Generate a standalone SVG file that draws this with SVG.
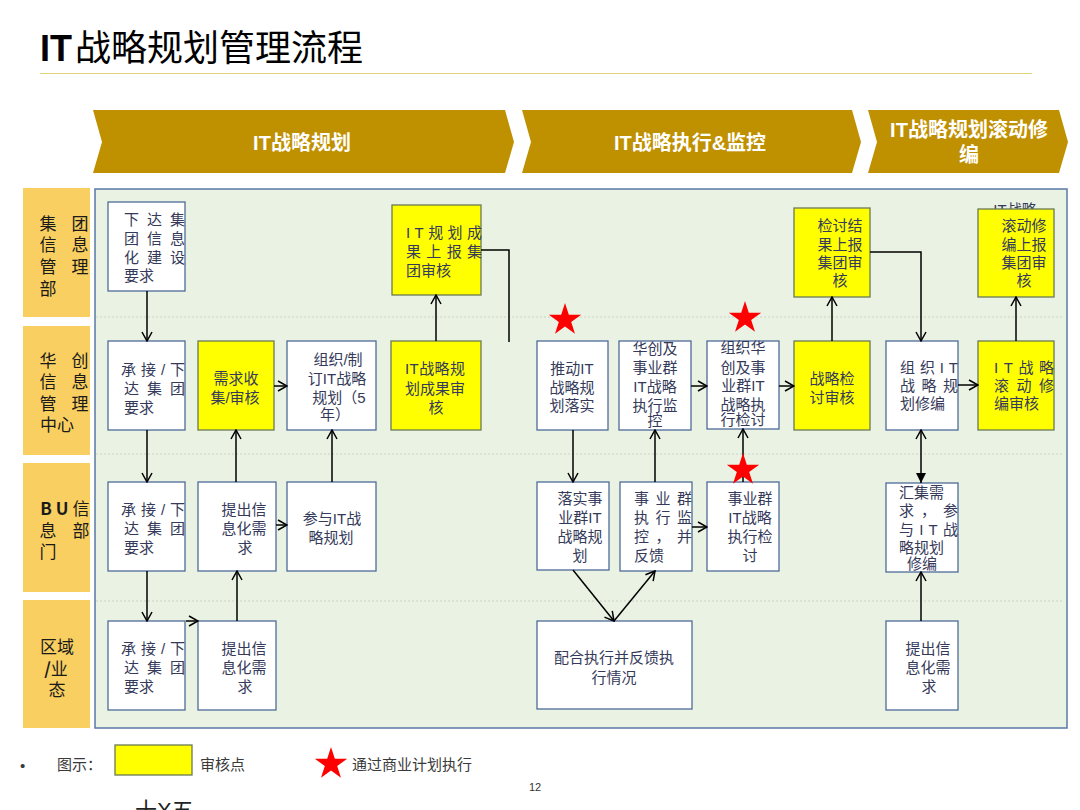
<svg xmlns="http://www.w3.org/2000/svg" width="1080" height="810" viewBox="0 0 1080 810">
<style>
.t{font-family:"Liberation Sans","Noto Sans CJK SC",sans-serif;font-size:15px;fill:#353a5a;dominant-baseline:central}
.c{text-anchor:middle}
.bx{fill:#fff;stroke:#4e6a99;stroke-width:1.3}
.yb{fill:#ffff00;stroke:#6a7a55;stroke-width:1.3}
.lane{fill:#f9cf61}
.lt{font-family:"Noto Sans CJK SC",sans-serif;font-size:17px;fill:#1a1a1a;dominant-baseline:central;text-anchor:middle}
.ch{fill:#bf9000}
.cht{font-family:"Liberation Sans","Noto Sans CJK SC",sans-serif;font-size:20px;font-weight:bold;fill:#fff;text-anchor:middle;dominant-baseline:central}
.ln{fill:none;stroke:#000;stroke-width:1.5}
.dl{stroke:#c4c8c4;stroke-width:0.8;stroke-dasharray:2 2}
.lg{font-family:"Liberation Sans","Noto Sans CJK SC",sans-serif;font-size:15px;fill:#3a3a3a;dominant-baseline:central}
</style>
<defs>
<marker id="ah" viewBox="0 0 12 12" refX="11" refY="6" markerWidth="12" markerHeight="12" markerUnits="userSpaceOnUse" orient="auto"><path d="M2,1 L11,6 L2,11" fill="none" stroke="#000" stroke-width="1.5"/></marker>
<marker id="ahf" viewBox="0 0 12 12" refX="11" refY="6" markerWidth="12" markerHeight="12" markerUnits="userSpaceOnUse" orient="auto-start-reverse"><path d="M1,1 L11,6 L1,11 Z" fill="#000"/></marker>
<polygon id="star" points="0,-17 3.82,-5.25 16.17,-5.25 6.18,2.01 9.99,13.75 0,6.49 -9.99,13.75 -6.18,2.01 -16.17,-5.25 -3.82,-5.25" fill="#ff0000"/>
</defs>
<rect width="1080" height="810" fill="#fff"/>

<g id="title">
<text x="40" y="61" font-family="Liberation Sans,sans-serif" font-size="36" font-weight="bold" fill="#000">IT<tspan font-family="Noto Sans CJK SC,sans-serif" font-weight="normal" dx="3">战略规划管理流程</tspan></text>
<line x1="40" y1="73.5" x2="1032" y2="73.5" stroke="#e3d37c" stroke-width="1"/>
</g>

<g id="phases">
<polygon class="ch" points="93,110 505,110 514,142 505,173 93,173 102,142"/>
<text class="cht" x="302" y="143">IT战略规划</text>
<polygon class="ch" points="522,110 852,110 861,142 852,173 522,173 531,142"/>
<text class="cht" x="690" y="143">IT战略执行&amp;监控</text>
<polygon class="ch" points="868,110 1059,110 1068,142 1059,173 868,173 877,142"/>
<text class="cht" x="969" y="130">IT战略规划滚动修</text>
<text class="cht" x="969" y="155">编</text>
</g>

<g id="panel">
<rect x="95" y="189" width="972" height="539" fill="#eaf3e3" stroke="#5878a8" stroke-width="1.5"/>
<line class="dl" x1="96" y1="317" x2="1062" y2="317"/>
<line class="dl" x1="96" y1="454" x2="1062" y2="454"/>
<line class="dl" x1="96" y1="601" x2="1062" y2="601"/>
</g>

<g id="lane1">
<rect class="lane" x="23" y="188" width="67" height="129"/>
<text class="lt" x="48" y="222">集</text><text class="lt" x="80" y="222">团</text>
<text class="lt" x="48" y="243">信</text><text class="lt" x="80" y="243">息</text>
<text class="lt" x="48" y="265">管</text><text class="lt" x="80" y="265">理</text>
<text class="lt" x="48" y="287">部</text>
</g>
<g id="lane2">
<rect class="lane" x="23" y="326" width="67" height="129"/>
<text class="lt" x="48" y="359">华</text><text class="lt" x="80" y="359">创</text>
<text class="lt" x="48" y="380">信</text><text class="lt" x="80" y="380">息</text>
<text class="lt" x="48" y="402">管</text><text class="lt" x="80" y="402">理</text>
<text class="lt" x="57" y="423">中心</text>
</g>
<g id="lane3">
<rect class="lane" x="23" y="463" width="67" height="129"/>
<text class="lt" x="46" y="507" font-family="Liberation Sans,sans-serif" font-weight="bold">B</text>
<text class="lt" x="62" y="507" font-family="Liberation Sans,sans-serif" font-weight="bold">U</text>
<text class="lt" x="81" y="507">信</text>
<text class="lt" x="48" y="529">息</text><text class="lt" x="81" y="529">部</text>
<text class="lt" x="48" y="550">门</text>
</g>
<g id="lane4">
<rect class="lane" x="23" y="600" width="67" height="128"/>
<text class="lt" x="57" y="645">区域</text>
<text class="lt" x="56" y="667"><tspan font-weight="bold">/</tspan>业</text>
<text class="lt" x="57" y="688">态</text>
</g>

<g id="n_xiada">
<rect class="bx" x="108" y="202" width="77" height="89"/>
<text class="t" x="124" y="219" textLength="61" lengthAdjust="spacing">下达集</text>
<text class="t" x="124" y="238" textLength="61" lengthAdjust="spacing">团信息</text>
<text class="t" x="124" y="257" textLength="61" lengthAdjust="spacing">化建设</text>
<text class="t" x="124" y="275">要求</text>
</g>
<g id="n_shangbao1">
<rect class="yb" x="392" y="205" width="89" height="90"/>
<text class="t" x="406" y="232" textLength="76" lengthAdjust="spacing">IT规划成</text>
<text class="t" x="406" y="251" textLength="76" lengthAdjust="spacing">果上报集</text>
<text class="t" x="406" y="270">团审核</text>
</g>
<g id="n_jiantao_report">
<rect class="yb" x="794" y="208" width="76" height="89"/>
<text class="t c" x="840" y="225">检讨结</text>
<text class="t c" x="840" y="244">果上报</text>
<text class="t c" x="840" y="262">集团审</text>
<text class="t c" x="840" y="280">核</text>
</g>
<text class="t c" x="1015" y="209" font-size="14">IT战略</text>
<g id="n_gundong_report">
<rect class="yb" x="978" y="209" width="76" height="88"/>
<text class="t c" x="1024" y="225">滚动修</text>
<text class="t c" x="1024" y="244">编上报</text>
<text class="t c" x="1024" y="262">集团审</text>
<text class="t c" x="1024" y="280">核</text>
</g>

<g id="n_b_chengjie">
<rect class="bx" x="108" y="341" width="77" height="89"/>
<text class="t" x="121" y="369" textLength="64" lengthAdjust="spacing">承接/下</text>
<text class="t" x="124" y="388" textLength="61" lengthAdjust="spacing">达集团</text>
<text class="t" x="124" y="407">要求</text>
</g>
<g id="n_xuqiu">
<rect class="yb" x="198" y="341" width="76" height="89"/>
<text class="t c" x="236" y="378">需求收</text>
<text class="t c" x="235" y="397">集/审核</text>
</g>
<g id="n_zhiding">
<rect class="bx" x="287" y="341" width="89" height="89"/>
<text class="t c" x="338" y="359">组织/制</text>
<text class="t c" x="337" y="378">订IT战略</text>
<text class="t c" x="339" y="397">规划（5</text>
<text class="t c" x="335" y="414">年）</text>
</g>
<g id="n_chengguo">
<rect class="yb" x="391" y="341" width="90" height="89"/>
<text class="t" x="405" y="368" textLength="60" lengthAdjust="spacing">IT战略规</text>
<text class="t" x="405" y="388" textLength="60" lengthAdjust="spacing">划成果审</text>
<text class="t c" x="436" y="407">核</text>
</g>
<g id="n_tuidong">
<rect class="bx" x="537" y="341" width="71" height="89"/>
<text class="t c" x="572" y="368">推动IT</text>
<text class="t c" x="572" y="387">战略规</text>
<text class="t c" x="572" y="405">划落实</text>
</g>
<g id="n_jiankong">
<rect class="bx" x="619" y="341" width="72" height="89"/>
<text class="t c" x="655" y="348">华创及</text>
<text class="t c" x="655" y="367">事业群</text>
<text class="t c" x="655" y="386">IT战略</text>
<text class="t c" x="655" y="405">执行监</text>
<text class="t c" x="655" y="420">控</text>
</g>
<g id="n_jiantao">
<rect class="bx" x="707" y="341" width="72" height="88"/>
<text class="t c" x="743" y="347">组织华</text>
<text class="t c" x="743" y="367">创及事</text>
<text class="t c" x="743" y="385">业群IT</text>
<text class="t c" x="743" y="404">战略执</text>
<text class="t c" x="743" y="419">行检讨</text>
</g>
<g id="n_shenhe">
<rect class="yb" x="794" y="341" width="76" height="89"/>
<text class="t c" x="832" y="378">战略检</text>
<text class="t c" x="832" y="397">讨审核</text>
</g>
<g id="n_xiubian">
<rect class="bx" x="886" y="341" width="72" height="89"/>
<text class="t" x="900" y="367" textLength="58" lengthAdjust="spacing">组织IT</text>
<text class="t" x="900" y="385" textLength="58" lengthAdjust="spacing">战略规</text>
<text class="t" x="900" y="403">划修编</text>
</g>
<g id="n_gundong">
<rect class="yb" x="978" y="341" width="76" height="89"/>
<text class="t" x="994" y="367" textLength="60" lengthAdjust="spacing">IT战略</text>
<text class="t" x="994" y="385" textLength="60" lengthAdjust="spacing">滚动修</text>
<text class="t" x="994" y="403">编审核</text>
</g>

<g id="n_c_chengjie">
<rect class="bx" x="108" y="482" width="77" height="89"/>
<text class="t" x="121" y="509" textLength="64" lengthAdjust="spacing">承接/下</text>
<text class="t" x="124" y="528" textLength="61" lengthAdjust="spacing">达集团</text>
<text class="t" x="124" y="547">要求</text>
</g>
<g id="n_c_tichu">
<rect class="bx" x="198" y="482" width="78" height="89"/>
<text class="t c" x="244" y="509">提出信</text>
<text class="t c" x="244" y="528">息化需</text>
<text class="t c" x="245" y="547">求</text>
</g>
<g id="n_canyu">
<rect class="bx" x="287" y="482" width="89" height="89"/>
<text class="t c" x="332" y="518">参与IT战</text>
<text class="t c" x="331" y="537">略规划</text>
</g>
<g id="n_luoshi">
<rect class="bx" x="537" y="482" width="72" height="88"/>
<text class="t c" x="580" y="498">落实事</text>
<text class="t c" x="580" y="517">业群IT</text>
<text class="t c" x="580" y="536">战略规</text>
<text class="t c" x="580" y="555">划</text>
</g>
<g id="n_fankui">
<rect class="bx" x="620" y="482" width="72" height="89"/>
<text class="t" x="634" y="498" textLength="58" lengthAdjust="spacing">事业群</text>
<text class="t" x="634" y="517" textLength="58" lengthAdjust="spacing">执行监</text>
<text class="t" x="634" y="536" textLength="58" lengthAdjust="spacing">控，并</text>
<text class="t" x="634" y="555">反馈</text>
</g>
<g id="n_c_jiantao">
<rect class="bx" x="707" y="482" width="72" height="89"/>
<text class="t c" x="750" y="498">事业群</text>
<text class="t c" x="750" y="517">IT战略</text>
<text class="t c" x="750" y="536">执行检</text>
<text class="t c" x="750" y="555">讨</text>
</g>
<g id="n_huiji">
<rect class="bx" x="886" y="483" width="72" height="89"/>
<text class="t" x="899" y="492">汇集需</text>
<text class="t" x="899" y="510" textLength="59" lengthAdjust="spacing">求，参</text>
<text class="t" x="899" y="529" textLength="59" lengthAdjust="spacing">与IT战</text>
<text class="t" x="899" y="547">略规划</text>
<text class="t" x="907" y="563">修编</text>
</g>

<g id="n_d_chengjie">
<rect class="bx" x="108" y="621" width="77" height="89"/>
<text class="t" x="121" y="648" textLength="64" lengthAdjust="spacing">承接/下</text>
<text class="t" x="124" y="667" textLength="61" lengthAdjust="spacing">达集团</text>
<text class="t" x="124" y="686">要求</text>
</g>
<g id="n_d_tichu">
<rect class="bx" x="198" y="621" width="78" height="89"/>
<text class="t c" x="244" y="648">提出信</text>
<text class="t c" x="244" y="667">息化需</text>
<text class="t c" x="245" y="686">求</text>
</g>
<g id="n_peihe">
<rect class="bx" x="537" y="621" width="155" height="88"/>
<text class="t c" x="614" y="657">配合执行并反馈执</text>
<text class="t c" x="614" y="677">行情况</text>
</g>
<g id="n_d_tichu2">
<rect class="bx" x="886" y="621" width="72" height="89"/>
<text class="t c" x="928" y="648">提出信</text>
<text class="t c" x="928" y="667">息化需</text>
<text class="t c" x="929" y="686">求</text>
</g>

<g id="connectors">
<path class="ln" d="M147,291 V341" marker-end="url(#ah)"/>
<path class="ln" d="M147,430 V482" marker-end="url(#ah)"/>
<path class="ln" d="M147,571 V621" marker-end="url(#ah)"/>
<path class="ln" d="M186,621 H198" marker-end="url(#ah)"/>
<path class="ln" d="M237,621 V571" marker-end="url(#ah)"/>
<path class="ln" d="M236,482 V430" marker-end="url(#ah)"/>
<path class="ln" d="M276,525 H287" marker-end="url(#ah)"/>
<path class="ln" d="M274,386 H287" marker-end="url(#ah)"/>
<path class="ln" d="M332,482 V430" marker-end="url(#ah)"/>
<path class="ln" d="M436,341 V295" marker-end="url(#ah)"/>
<path class="ln" d="M481,250 H509 V342"/>
<path class="ln" d="M573,430 V482" marker-end="url(#ah)"/>
<path class="ln" d="M655,482 V430" marker-end="url(#ah)"/>
<path class="ln" d="M691,386 H707" marker-end="url(#ah)"/>
<path class="ln" d="M743,482 V429" marker-end="url(#ah)"/>
<path class="ln" d="M779,386 H794" marker-end="url(#ah)"/>
<path class="ln" d="M573,570 L614,621" marker-end="url(#ah)"/>
<path class="ln" d="M614,621 L655,571" marker-end="url(#ah)"/>
<path class="ln" d="M692,527 H707" marker-end="url(#ah)"/>
<path class="ln" d="M832,341 V297" marker-end="url(#ah)"/>
<path class="ln" d="M870,252 H921 V341" marker-end="url(#ah)"/>
<path class="ln" d="M921,483 V430" marker-start="url(#ahf)" marker-end="url(#ah)"/>
<path class="ln" d="M958,385 H978" marker-end="url(#ah)"/>
<path class="ln" d="M1016,341 V297" marker-end="url(#ah)"/>
<path class="ln" d="M921,621 V572" marker-end="url(#ah)"/>
</g>

<g id="stars">
<use href="#star" x="565" y="320"/>
<use href="#star" x="745" y="318"/>
<use href="#star" x="743" y="470"/>
</g>

<g id="legend">
<text class="lg" x="20" y="765" fill="#000">•</text>
<text class="lg" x="57" y="764">图示：</text>
<rect class="yb" x="115" y="745" width="77" height="30"/>
<text class="lg" x="200" y="764">审核点</text>
<use href="#star" x="331" y="764"/>
<text class="lg" x="352" y="764">通过商业计划执行</text>
<text x="529" y="791" font-family="Liberation Sans,sans-serif" font-size="11" fill="#333">12</text>
<text x="135" y="818" font-family="Liberation Sans,Noto Sans CJK SC,sans-serif" font-size="22" fill="#222">十X五</text>
</g>
</svg>
